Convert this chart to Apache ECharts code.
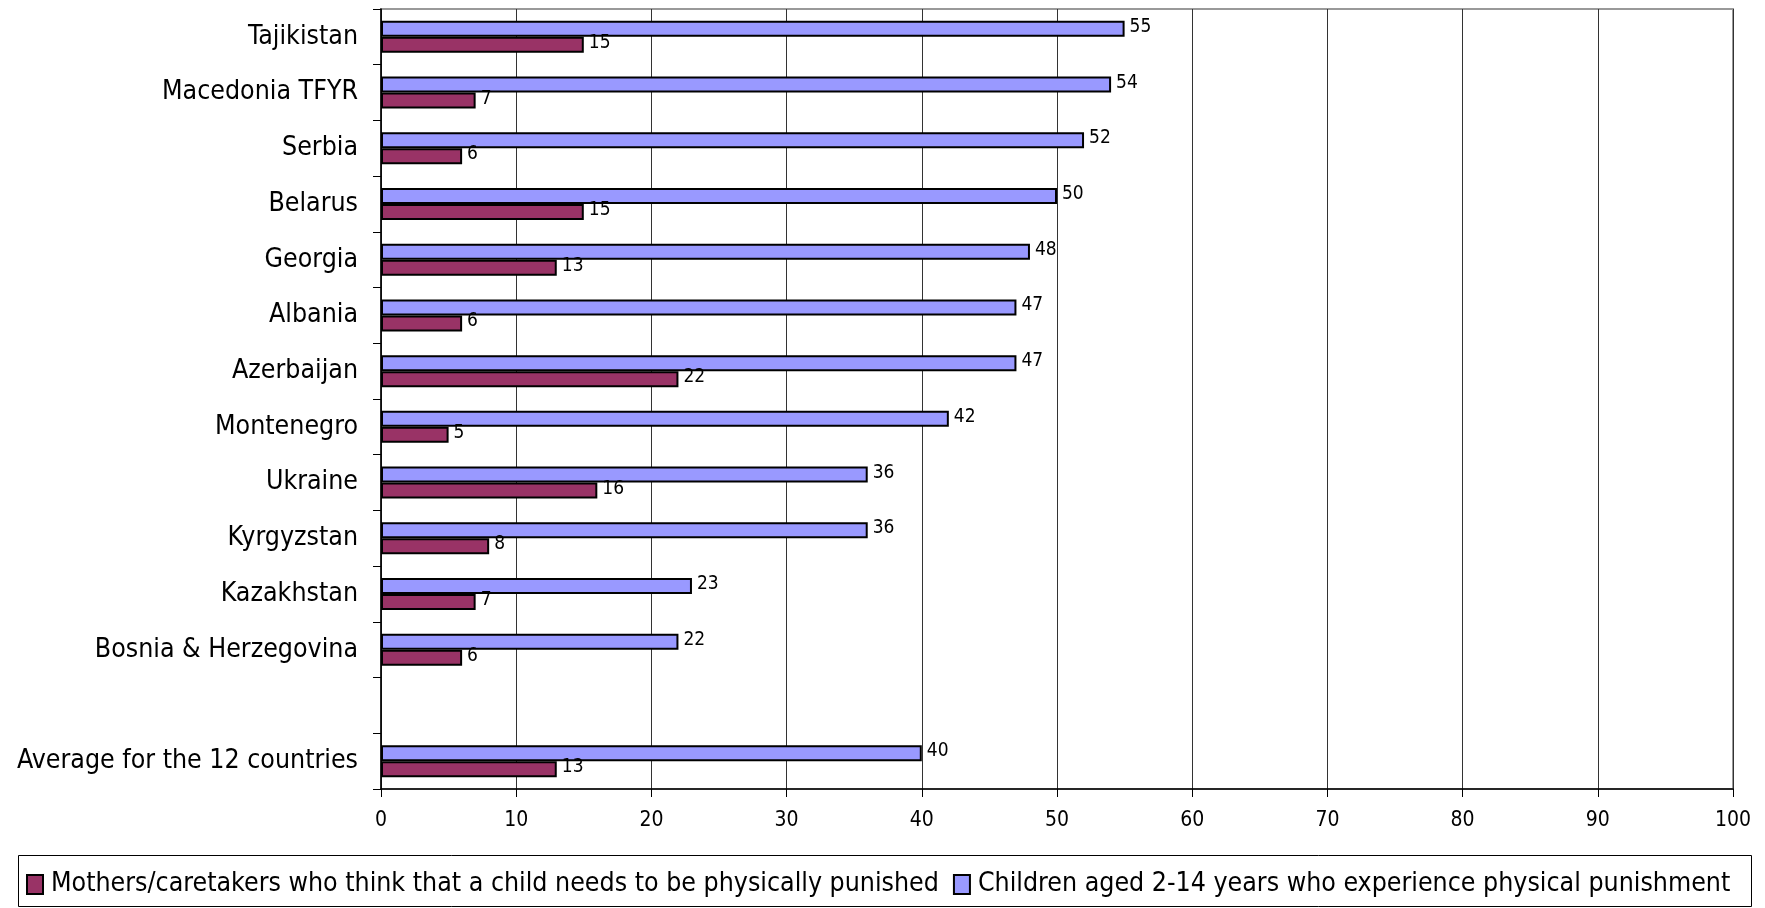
<!DOCTYPE html>
<html>
<head>
<meta charset="utf-8">
<script src="https://cdn.jsdelivr.net/npm/echarts@6/dist/echarts.min.js"></script>
<style>
  html, body { margin: 0; padding: 0; background: #fff; }
  #chart { width: 1765px; height: 908px; }
</style>
</head>
<body>
<div id="chart"></div>
<script>
// Countries, top to bottom; the empty entry leaves a gap before the average row
const countries = [
  'Tajikistan', 'Macedonia TFYR', 'Serbia', 'Belarus', 'Georgia', 'Albania',
  'Azerbaijan', 'Montenegro', 'Ukraine', 'Kyrgyzstan', 'Kazakhstan',
  'Bosnia & Herzegovina', '', 'Average for the 12 countries'
];
// Percent of children aged 2-14 who experience physical punishment
const childrenPunished = [55, 54, 52, 50, 48, 47, 47, 42, 36, 36, 23, 22, null, 40];
// Percent of mothers/caretakers who think a child needs physical punishment
const mothersThink = [15, 7, 6, 15, 13, 6, 22, 5, 16, 8, 7, 6, null, 13];
// Value axis ticks
const xTicks = [0, 10, 20, 30, 40, 50, 60, 70, 80, 90, 100];

const seriesNames = [
  'Mothers/caretakers who think that a child needs to be physically punished',
  'Children aged 2-14 years who experience physical punishment'
];

const FONT = '"Liberation Sans Narrow", "Arial Narrow", "DejaVu Sans Condensed", sans-serif';

const chart = echarts.init(document.getElementById('chart'), null, { renderer: 'canvas' });

const labelStyle = {
  show: true,
  position: 'right',
  distance: 5,
  offset: [0, -2],
  color: '#000',
  fontSize: 19,
  fontFamily: FONT
};

chart.setOption({
  animation: false,
  backgroundColor: '#fff',
  textStyle: { fontFamily: FONT },
  grid: {
    left: 381, right: 32, top: 9, bottom: 119,
    outerBoundsMode: 'none',
    containLabel: false,
    show: true, borderColor: '#999', borderWidth: 2, backgroundColor: 'transparent'
  },
  graphic: [{
    type: 'rect',
    left: 18, top: 855,
    shape: { width: 1733, height: 51 },
    style: { fill: 'transparent', stroke: '#000', lineWidth: 1 },
    z: 0
  }],
  legend: {
    data: seriesNames,
    left: 26, top: 871, width: 1739,
    padding: 0,
    itemWidth: 16, itemHeight: 19, itemGap: 14,
    icon: 'rect',
    textStyle: { fontSize: 26.5, color: '#000', fontFamily: FONT, padding: [0, 0, 0, 3] }
  },
  xAxis: {
    type: 'value',
    min: xTicks[0], max: xTicks[xTicks.length - 1], interval: 10,
    axisLine: { show: true, lineStyle: { color: '#000', width: 1.5 } },
    axisTick: { show: true, length: 8, lineStyle: { color: '#000' } },
    axisLabel: { color: '#000', fontSize: 21, margin: 21, fontFamily: FONT },
    splitLine: { show: true, lineStyle: { color: '#333', width: 1 } }
  },
  yAxis: {
    type: 'category',
    data: countries,
    inverse: true,
    axisLine: { show: true, lineStyle: { color: '#000', width: 1.5 } },
    axisTick: { show: true, length: 8, lineStyle: { color: '#000' } },
    axisLabel: { color: '#000', fontSize: 26.5, margin: 23, fontFamily: FONT },
    splitLine: { show: false }
  },
  series: [
    {
      name: seriesNames[1],
      type: 'bar',
      data: childrenPunished,
      barWidth: 16,
      barGap: '0%',
      itemStyle: { color: '#9999FF', borderColor: '#000', borderWidth: 2 },
      label: labelStyle
    },
    {
      name: seriesNames[0],
      type: 'bar',
      data: mothersThink,
      barWidth: 16,
      barGap: '0%',
      itemStyle: { color: '#993366', borderColor: '#000', borderWidth: 2 },
      label: labelStyle
    }
  ]
});
</script>
</body>
</html>
